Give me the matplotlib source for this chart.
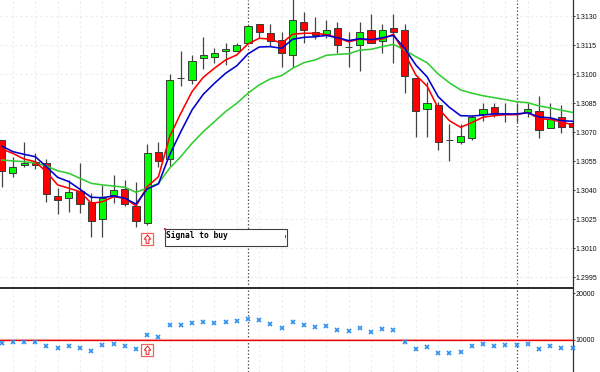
import numpy as np
import matplotlib
matplotlib.use('Agg')
import matplotlib.pyplot as plt
from matplotlib.patches import Rectangle
from matplotlib.path import Path

# candle data (price x 100000)
tops = [130659,130518,130540,130544,130538,130369,130390,130397,130340,130361,130399,130407,130318,130590,130597,130968,
        130978,131069,131097,131107,131131,131149,131250,131257,131211,131176,131278,131267,131216,131228,131238,131138,
        131216,131228,131228,131238,131228,130978,130849,130840,130657,130678,130779,130818,130828,130800,130799,130818,
        130807,130766,130776,130745]
bottoms = [130500,130487,130528,130530,130380,130350,130358,130330,130239,130249,130373,130330,130239,130228,130550,130559,
           130978,130968,131081,131086,131119,131119,131159,131219,131171,131110,131098,131228,131202,131205,131149,131138,
           131149,131159,131169,131217,130988,130807,130818,130647,130657,130647,130669,130792,130792,130792,130799,130805,
           130711,130719,130728,130728]
highs = [130659,130571,130649,130593,130559,130409,130452,130542,130385,130426,130478,130452,130440,130638,130649,131000,
         131121,131098,131190,131133,131160,131159,131250,131257,131259,131216,131400,131319,131296,131279,131267,131217,
         131267,131309,131259,131309,131259,130978,130960,130857,130742,130742,130788,130849,130849,130849,130849,130849,
         130888,130849,130840,130762]
lows = [130417,130468,130519,130509,130340,130278,130288,130283,130159,130159,130333,130318,130211,130219,130519,130526,
        130938,130948,131028,131059,131047,131119,131159,131185,131145,131038,131038,131159,131180,131188,131107,131038,
        131017,131159,131107,131059,130900,130676,130676,130607,130549,130637,130657,130759,130779,130754,130754,130779,
        130668,130719,130697,130676]
is_green = [0,1,1,0,0,0,1,0,0,1,1,0,0,1,0,1,1,1,1,1,1,1,1,0,0,0,1,0,0,1,0,1,
            1,0,1,0,0,0,1,0,1,1,1,1,0,0,1,1,0,1,0,0]

ma_red = [130613,130590,130561,130547,130494,130427,130410,130392,130332,130340,130366,130358,130318,130418,130469,130676,
          130797,130909,130983,131030,131073,131099,131156,131185,131181,131159,131206,131211,131211,131204,131188,131167,
          131181,131175,131181,131206,131107,130995,130938,130823,130759,130725,130749,130777,130785,130790,130790,130802,
          130769,130766,130752,130738]
ma_blue = [130628,130599,130585,130573,130521,130466,130444,130404,130363,130361,130370,130358,130328,130406,130432,130582,
           130702,130814,130895,130952,131004,131043,131104,131140,131142,131133,131180,131190,131193,131200,131188,131173,
           131183,131178,131188,131200,131133,131047,130986,130883,130828,130785,130783,130788,130795,130794,130794,130800,
           130778,130774,130759,130756]
ma_green = [130556,130551,130547,130540,130525,130500,130487,130461,130435,130427,130421,130415,130389,130410,130435,130513,
            130573,130642,130702,130754,130806,130849,130901,130944,130975,130992,131030,131059,131073,131097,131102,131105,
            131124,131128,131142,131154,131124,131090,131059,131000,130955,130918,130901,130888,130878,130868,130857,130852,
            130835,130825,130813,130802]

indicator = [9358,9508,9572,9572,8588,8288,8716,8288,7518,8866,9144,8588,7946,11006,10578,13082,13082,13574,13724,13638,
             13852,14002,14494,14152,13360,12568,13852,13210,12654,12932,12012,11862,12504,11712,12354,12140,9572,7946,8438,
             7090,7090,7432,8588,9016,8716,8866,8866,9016,7946,8716,8288,8288]

price_ticks = [1.3130, 1.3115, 1.3100, 1.3085, 1.3070, 1.3055, 1.3040, 1.3025, 1.3010, 1.2995]
ind_ticks = [10000, 20000]
signal_i = 13
signal_price = 1.30145
signal_ind = 7796
period_sep = [22, 46]

W, H = 600, 372
FONT = 'Liberation Sans'


def px(x, y):
    return x / W, 1 - y / H


fig = plt.figure(figsize=(6, 3.72), dpi=100, facecolor='white')
ax = fig.add_axes([0, 1 - 288 / H, 573 / W, 288 / H])
ax2 = fig.add_axes([0, 0, 573 / W, 83 / H])

x = np.arange(len(tops))
o = np.array(tops) / 100000
c = np.array(bottoms) / 100000
hi = np.array(highs) / 100000
lo = np.array(lows) / 100000
green = np.array(is_green, dtype=bool)

for a in (ax, ax2):
    a.set_xlim(-0.152, 51.04)
    a.set_xticks(x[1::2])
    a.tick_params(axis='x', length=0, labelbottom=False)
    a.grid(axis='x', color='#ececec', lw=0.8, ls=(0, (2, 2.5)), zorder=0)
    for s in ('top', 'left', 'bottom'):
        a.spines[s].set_visible(False)
    a.spines['right'].set_color('#303030')
    a.spines['right'].set_linewidth(0.9)
    a.yaxis.tick_right()
    a.tick_params(axis='y', length=1.5, width=0.7, color='#303030', pad=0.6, labelsize=5.0, labelcolor='#101010')
    for i in period_sep:
        a.axvline(i, color='#555555', lw=0.9, ls=(0, (1.2, 1.6)), zorder=1)

# price panel
ax.set_ylim(1.29894, 1.31383)
ax.set_yticks(price_ticks)
ax.set_yticklabels(['%.4f' % t for t in price_ticks], family=FONT)
ax.grid(axis='y', color='#ececec', lw=0.8, ls=(0, (2, 2.5)), zorder=0)

ax.vlines(x, lo, hi, color='#444444', lw=0.9, zorder=2)
heights = np.maximum(o - c, 0.00001)
ax.bar(x, heights, bottom=c, width=0.64, color=np.where(green, '#00ff00', '#ff0000'),
       edgecolor='#3a3a3a', linewidth=0.7, zorder=3)

ax.plot(x, np.array(ma_green) / 100000, color='#32cd32', lw=1.15, zorder=4)
ax.plot(x, np.array(ma_red) / 100000, color='#ff0000', lw=1.15, zorder=5)
ax.plot(x, np.array(ma_blue) / 100000, color='#0000cc', lw=1.15, zorder=6)

# indicator panel
ax2.set_ylim(3088, 20914)
ax2.set_yticks(ind_ticks)
ax2.set_yticklabels([str(t) for t in ind_ticks], family=FONT)
ax2.axhline(10000, color='#f4b0b0', lw=1.6, zorder=2)
ax2.axhline(10000, color='#ee0000', lw=0.9, zorder=3)
ax2.plot(x, indicator, ls='none', marker='x', ms=3.4, mew=1.2, color='#2f8ff0', zorder=4, clip_on=False)

# signal arrows
arrow = Path([(-0.5, 0.05), (0, 0.7), (0.5, 0.05), (0.22, 0.05), (0.22, -0.6), (-0.22, -0.6), (-0.22, 0.05), (-0.5, 0.05)],
             closed=True)
for a, yv in ((ax, signal_price), (ax2, signal_ind)):
    a.plot([signal_i], [yv], ls='none', marker='s', ms=8.3, mfc='white', mec='#f06060', mew=0.9, zorder=7)
    a.plot([signal_i], [yv], ls='none', marker=arrow, ms=6.5, mfc='white', mec='#e02020', mew=0.7, zorder=8)

# label object
x0, y0 = px(164.7, 246.3)
x1, y1 = px(287.3, 229.3)
fig.add_artist(Rectangle((x0, y0), x1 - x0, y1 - y0, transform=fig.transFigure, fc='white', ec='#404040', lw=0.8))
fig.text(*px(166, 235.5), 'Signal to buy', family='DejaVu Sans Mono', fontsize=5.7, fontweight='bold',
         color='black', va='center', ha='left')
fig.add_artist(Rectangle(px(163.5, 230), 2 / W, 2 / H, transform=fig.transFigure, fc='#e0206a', ec='none'))
fig.add_artist(Rectangle(px(285, 237.5), 1 / W, 3 / H, transform=fig.transFigure, fc='#d02060', ec='none'))

# panel separator
fig.add_artist(Rectangle(px(0, 289), 573 / W, 2 / H, transform=fig.transFigure, fc='#303030', ec='none'))

fig.savefig('out.png', dpi=100)
